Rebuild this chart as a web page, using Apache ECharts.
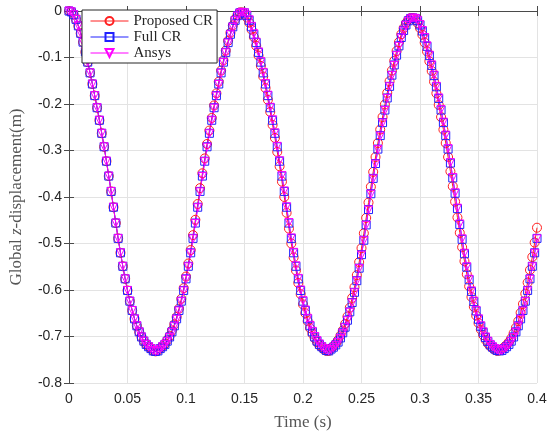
<!DOCTYPE html>
<html>
<head>
<meta charset="utf-8">
<script src="https://cdn.jsdelivr.net/npm/echarts@6/dist/echarts.min.js"></script>
<style>
    html, body { margin: 0; padding: 0; background: #fff; }
    #chart { width: 550px; height: 436px; }
</style>
</head>
<body>
<div id="chart"></div>
<script>
// sampling step of the time history (s)
const timeStep = 0.002;

const seriesNames = ['Proposed CR', 'Full CR', 'Ansys'];

// Global z-displacement (m), one value per time step, 0 .. 0.4 s
const proposedCR = [
    0, -0.002, -0.008, -0.018, -0.032, -0.048, -0.067, -0.088, -0.110, -0.133,
    -0.157, -0.182, -0.208, -0.235, -0.263, -0.292, -0.323, -0.355, -0.388, -0.422,
    -0.456, -0.489, -0.520, -0.549, -0.576, -0.601, -0.624, -0.644, -0.662, -0.677,
    -0.690, -0.701, -0.710, -0.717, -0.722, -0.726, -0.731, -0.732,
    -0.730, -0.725, -0.721, -0.716, -0.708, -0.699, -0.687, -0.674, -0.658, -0.640,
    -0.619, -0.596, -0.571, -0.543, -0.514, -0.482, -0.449, -0.415, -0.381, -0.349,
    -0.317, -0.286, -0.257, -0.230, -0.203, -0.177, -0.152, -0.128, -0.106, -0.085,
    -0.064, -0.047, -0.031, -0.018, -0.009, -0.003, -0.003,
    -0.006, -0.014, -0.025, -0.040, -0.056, -0.075, -0.096, -0.118, -0.141, -0.166,
    -0.191, -0.217, -0.245, -0.273, -0.303, -0.334, -0.367, -0.400, -0.434, -0.468,
    -0.500, -0.530, -0.558, -0.585, -0.609, -0.631, -0.650, -0.667, -0.682, -0.694,
    -0.704, -0.712, -0.719, -0.723, -0.728, -0.731, -0.731,
    -0.725, -0.721, -0.715, -0.708, -0.698, -0.687, -0.673, -0.657, -0.638, -0.617,
    -0.594, -0.568, -0.540, -0.510, -0.478, -0.445, -0.412, -0.378, -0.346, -0.314,
    -0.284, -0.255, -0.228, -0.201, -0.176, -0.151, -0.128, -0.107, -0.086, -0.067,
    -0.050, -0.037, -0.026, -0.019, -0.015, -0.015,
    -0.019, -0.026, -0.037, -0.051, -0.068, -0.087, -0.108, -0.129, -0.152, -0.177,
    -0.202, -0.228, -0.255, -0.284, -0.314, -0.345, -0.377, -0.410, -0.444, -0.477,
    -0.508, -0.538, -0.566, -0.592, -0.615, -0.636, -0.655, -0.671, -0.685, -0.697,
    -0.707, -0.715, -0.721, -0.725, -0.729, -0.731, -0.730,
    -0.727, -0.723, -0.718, -0.712, -0.704, -0.693, -0.681, -0.667, -0.649, -0.630,
    -0.608, -0.584, -0.557, -0.529, -0.498, -0.466
];

const fullCR = [
    0, -0.002, -0.008, -0.018, -0.032, -0.048, -0.067, -0.088, -0.110, -0.133,
    -0.157, -0.182, -0.208, -0.235, -0.263, -0.292, -0.323, -0.355, -0.388, -0.422,
    -0.456, -0.489, -0.520, -0.549, -0.576, -0.601, -0.624, -0.644, -0.662, -0.677,
    -0.690, -0.701, -0.710, -0.717, -0.722, -0.726, -0.731, -0.732,
    -0.731, -0.726, -0.722, -0.717, -0.710, -0.701, -0.690, -0.677, -0.662, -0.644,
    -0.624, -0.601, -0.576, -0.549, -0.520, -0.489, -0.456, -0.422, -0.388, -0.355,
    -0.323, -0.292, -0.263, -0.235, -0.208, -0.182, -0.157, -0.133, -0.110, -0.089,
    -0.068, -0.050, -0.034, -0.020, -0.010, -0.004, -0.003,
    -0.004, -0.010, -0.020, -0.034, -0.050, -0.068, -0.089, -0.110, -0.133, -0.157,
    -0.182, -0.208, -0.235, -0.263, -0.292, -0.323, -0.355, -0.388, -0.422, -0.456,
    -0.489, -0.520, -0.549, -0.576, -0.601, -0.624, -0.644, -0.662, -0.677, -0.690,
    -0.701, -0.710, -0.717, -0.722, -0.726, -0.730, -0.731,
    -0.727, -0.723, -0.718, -0.712, -0.703, -0.692, -0.680, -0.665, -0.647, -0.627,
    -0.605, -0.580, -0.553, -0.524, -0.493, -0.460, -0.427, -0.393, -0.360, -0.328,
    -0.297, -0.268, -0.240, -0.213, -0.187, -0.162, -0.138, -0.116, -0.095, -0.075,
    -0.057, -0.042, -0.030, -0.021, -0.016, -0.015,
    -0.016, -0.021, -0.030, -0.043, -0.058, -0.076, -0.096, -0.117, -0.139, -0.163,
    -0.188, -0.213, -0.240, -0.268, -0.297, -0.327, -0.359, -0.392, -0.425, -0.459,
    -0.491, -0.522, -0.551, -0.578, -0.603, -0.625, -0.645, -0.663, -0.678, -0.691,
    -0.702, -0.711, -0.718, -0.723, -0.727, -0.730, -0.731,
    -0.730, -0.726, -0.722, -0.717, -0.710, -0.701, -0.690, -0.677, -0.662, -0.644,
    -0.624, -0.601, -0.576, -0.549, -0.520, -0.489
];

const ansys = [
    0, -0.002, -0.008, -0.018, -0.032, -0.048, -0.067, -0.088, -0.110, -0.133,
    -0.157, -0.182, -0.208, -0.235, -0.263, -0.292, -0.323, -0.355, -0.388, -0.422,
    -0.456, -0.489, -0.520, -0.549, -0.576, -0.601, -0.624, -0.644, -0.662, -0.677,
    -0.690, -0.701, -0.710, -0.717, -0.722, -0.726, -0.730, -0.732,
    -0.731, -0.727, -0.722, -0.717, -0.711, -0.702, -0.691, -0.678, -0.663, -0.645,
    -0.625, -0.602, -0.577, -0.550, -0.521, -0.490, -0.457, -0.423, -0.389, -0.356,
    -0.324, -0.293, -0.264, -0.236, -0.209, -0.183, -0.158, -0.134, -0.111, -0.090,
    -0.069, -0.051, -0.035, -0.021, -0.011, -0.005, -0.003,
    -0.004, -0.009, -0.019, -0.033, -0.049, -0.067, -0.088, -0.109, -0.132, -0.156,
    -0.181, -0.207, -0.234, -0.262, -0.291, -0.322, -0.354, -0.387, -0.421, -0.455,
    -0.488, -0.519, -0.548, -0.575, -0.600, -0.623, -0.643, -0.661, -0.676, -0.689,
    -0.700, -0.709, -0.716, -0.722, -0.726, -0.729, -0.731,
    -0.728, -0.724, -0.719, -0.713, -0.704, -0.693, -0.681, -0.666, -0.648, -0.628,
    -0.606, -0.581, -0.554, -0.525, -0.494, -0.461, -0.428, -0.394, -0.361, -0.329,
    -0.298, -0.269, -0.241, -0.214, -0.188, -0.163, -0.139, -0.117, -0.096, -0.076,
    -0.058, -0.043, -0.031, -0.022, -0.017, -0.015,
    -0.016, -0.020, -0.029, -0.042, -0.057, -0.075, -0.095, -0.116, -0.138, -0.162,
    -0.187, -0.212, -0.239, -0.267, -0.296, -0.326, -0.358, -0.391, -0.424, -0.458,
    -0.490, -0.521, -0.550, -0.577, -0.602, -0.624, -0.644, -0.662, -0.677, -0.690,
    -0.701, -0.710, -0.717, -0.722, -0.726, -0.729, -0.731,
    -0.730, -0.727, -0.723, -0.718, -0.711, -0.702, -0.691, -0.678, -0.663, -0.645,
    -0.625, -0.602, -0.577, -0.550, -0.521, -0.490
];

const xTicks = { min: 0, max: 0.4, interval: 0.05 };
const yTicks = { min: -0.8, max: 0, interval: 0.1 };

const serif = '"Liberation Serif", "DejaVu Serif", serif';
const sans = '"Liberation Sans", Arial, sans-serif';
const axisColor = '#4a4a4a';

function toPoints(values) {
    return values.map((v, i) => [+(i * timeStep).toFixed(3), v]);
}

function makeSeries(name, values, color, symbol, size, rotate) {
    return {
        name: name,
        type: 'line',
        data: toPoints(values),
        symbol: symbol,
        symbolSize: size,
        symbolRotate: rotate,
        showAllSymbol: true,
        lineStyle: { color: color, width: 1 },
        itemStyle: { color: 'rgba(0,0,0,0)', borderColor: color, borderWidth: 1 },
        emphasis: { disabled: true }
    };
}

let chart = echarts.init(document.getElementById('chart'), null, { renderer: 'canvas' });

let frameAxis = {
    show: true,
    lineStyle: { color: axisColor, width: 1 }
};

let option = {
    animation: false,
    backgroundColor: '#fff',
    grid: { left: 60, right: 13, top: 11, bottom: 50 },
    legend: {
        data: seriesNames,
        orient: 'vertical',
        left: 82,
        top: 10,
        itemWidth: 38,
        itemHeight: 10,
        itemGap: 0,
        padding: [3, 4, 2, 8],
        backgroundColor: '#fff',
        borderColor: '#262626',
        borderWidth: 1,
        lineStyle: { color: 'inherit', width: 1, type: 'inherit' },
        textStyle: { fontFamily: serif, fontSize: 15, color: '#262626', lineHeight: 16 }
    },
    xAxis: [{
        type: 'value',
        min: xTicks.min,
        max: xTicks.max,
        interval: xTicks.interval,
        name: 'Time (s)',
        nameLocation: 'middle',
        nameGap: 31,
        nameTextStyle: { fontFamily: serif, fontSize: 17, color: '#555' },
        axisLine: frameAxis,
        axisTick: { inside: true, length: 5, lineStyle: { color: axisColor } },
        axisLabel: { fontFamily: sans, fontSize: 14, color: '#262626', margin: 9 },
        splitLine: { show: true, lineStyle: { color: '#e3e3e3', width: 1 } }
    }, {
        type: 'value',
        position: 'top',
        min: xTicks.min,
        max: xTicks.max,
        interval: xTicks.interval,
        axisLine: frameAxis,
        axisTick: { inside: true, length: 5, lineStyle: { color: axisColor } },
        axisLabel: { show: false },
        splitLine: { show: false }
    }],
    yAxis: [{
        type: 'value',
        min: yTicks.min,
        max: yTicks.max,
        interval: yTicks.interval,
        name: '{a|Global }{i|z}{a|-displacement(m)}',
        nameLocation: 'middle',
        nameGap: 44,
        nameTextStyle: {
            color: '#555',
            rich: {
                a: { fontFamily: serif, fontSize: 17, color: '#555' },
                i: { fontFamily: serif, fontSize: 17, fontStyle: 'italic', color: '#555' }
            }
        },
        axisLine: frameAxis,
        axisTick: { inside: true, length: 5, lineStyle: { color: axisColor } },
        axisLabel: { fontFamily: sans, fontSize: 14, color: '#262626', margin: 7 },
        splitLine: { show: true, lineStyle: { color: '#e3e3e3', width: 1 } }
    }, {
        type: 'value',
        position: 'right',
        min: yTicks.min,
        max: yTicks.max,
        interval: yTicks.interval,
        axisLine: frameAxis,
        axisTick: { inside: true, length: 5, lineStyle: { color: axisColor } },
        axisLabel: { show: false },
        splitLine: { show: false }
    }],
    series: [
        makeSeries(seriesNames[0], proposedCR, '#ff2020', 'circle', 9, 0),
        makeSeries(seriesNames[1], fullCR, '#2020ff', 'rect', 8, 0),
        makeSeries(seriesNames[2], ansys, '#ff00ff', 'triangle', 8, 180)
    ]
};

chart.setOption(option);
</script>
</body>
</html>
